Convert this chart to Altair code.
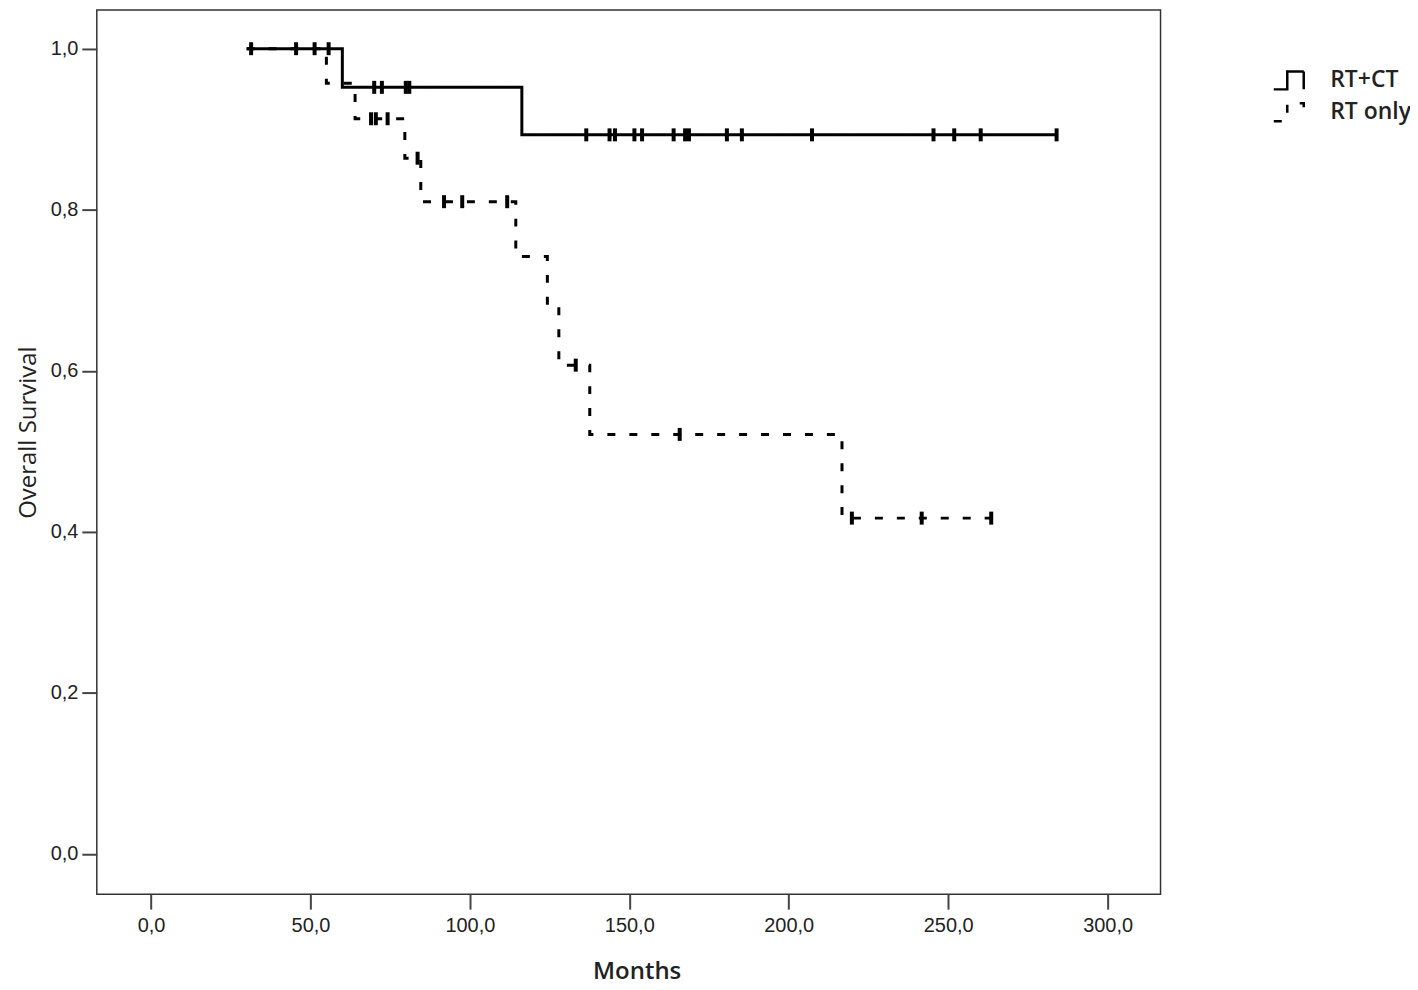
import altair as alt
import pandas as pd

# Kaplan-Meier step points (time in months, survival)
ct_times = [30.0, 60.0, 116.3, 284.0]
ct_surv = [1.0, 0.952, 0.893, 0.893]
rt_times = [30.0, 55.0, 64.0, 79.6, 84.6, 114.4, 124.3, 127.9, 137.6, 216.7, 263.5]
rt_surv = [1.0, 0.957, 0.913, 0.864, 0.810, 0.742, 0.680, 0.607, 0.521, 0.417, 0.417]

# censored observations
ct_cens = [31.4, 45.5, 55.7, 70.0, 72.4, 79.9, 81.0, 136.5, 143.8, 145.5, 151.6, 154.0,
           163.9, 167.5, 168.7, 180.6, 185.3, 207.3, 245.4, 251.9, 260.2, 284.0]
rt_cens = [51.3, 69.0, 70.5, 74.2, 83.6, 91.9, 97.6, 111.7, 133.2, 165.8, 219.8, 241.7, 263.5]

groups = ["RT+CT", "RT only"]
x_ticks = [0, 50, 100, 150, 200, 250, 300]
y_ticks = [0.0, 0.2, 0.4, 0.6, 0.8, 1.0]


def surv_at(t, times, surv):
    s = surv[0]
    for ti, si in zip(times, surv):
        if ti <= t:
            s = si
    return s


lines = pd.DataFrame(
    [{"t": t, "s": s, "g": groups[0]} for t, s in zip(ct_times, ct_surv)]
    + [{"t": t, "s": s, "g": groups[1]} for t, s in zip(rt_times, rt_surv)]
)
cens = pd.DataFrame(
    [{"t": t, "s": surv_at(t, ct_times, ct_surv), "g": groups[0]} for t in ct_cens]
    + [{"t": t, "s": surv_at(t, rt_times, rt_surv), "g": groups[1]} for t in rt_cens]
)

comma = "replace(format(datum.value, '.1f'), '.', ',')"

x_enc = alt.X(
    "t:Q",
    scale=alt.Scale(domain=[-17, 316.6], nice=False, zero=False),
    axis=alt.Axis(
        values=x_ticks, labelExpr=comma, title="Months",
        titleX=541, titleY=78, titleBaseline="middle", titleAlign="center",
        titleFont="Open Sans", titleFontSize=24, titleFontWeight=600, titleColor="#222",
    ),
)
y_enc = alt.Y(
    "s:Q",
    scale=alt.Scale(domain=[-0.05, 1.048], nice=False, zero=False),
    axis=alt.Axis(
        values=y_ticks, labelExpr=comma, title="Overall Survival",
        titleX=-68, titleY=423, titleBaseline="middle", titleAlign="center", titleAngle=270,
        titleFont="Open Sans", titleFontSize=24, titleFontWeight="normal", titleColor="#222",
    ),
)

step_path = "M -1 0.6 H -0.1 V -0.6 H 1 V 0.6"

line_layer = alt.Chart(lines).mark_line(
    interpolate="step-after", color="black", strokeWidth=3, strokeCap="butt"
).encode(
    x=x_enc,
    y=y_enc,
    strokeDash=alt.StrokeDash(
        "g:N",
        scale=alt.Scale(domain=groups, range=[[1, 0], [8, 14]]),
        sort=groups,
        legend=alt.Legend(
            title=None, orient="none", legendX=1178, legendY=54,
            symbolType=step_path, symbolSize=900, symbolStrokeWidth=2.5,
            symbolStrokeColor="black", labelFont="Open Sans", labelFontSize=23,
            labelFontWeight=600, labelColor="#222", labelOffset=25, rowPadding=1,
        ),
    ),
    detail="g:N",
)

tick_layer = alt.Chart(cens).mark_tick(
    color="black", opacity=1, thickness=4, size=13, orient="vertical"
).encode(x="t:Q", y="s:Q")

chart = alt.layer(line_layer, tick_layer).properties(
    width=1066, height=886,
    autosize=alt.AutoSizeParams(type="none"),
    padding={"left": 89, "top": 1, "right": 250, "bottom": 93},
).configure_view(
    stroke="#333", strokeWidth=1.5
).configure_axis(
    domain=False, grid=False, ticks=True, tickSize=15, tickWidth=2, tickColor="#444",
    labelFont="Liberation Sans", labelFontSize=20, labelColor="#222", labelPadding=4,
).configure_axisX(
    labelPadding=6
)

chart.save("out.html", embed_options={"renderer": "svg", "actions": False})
